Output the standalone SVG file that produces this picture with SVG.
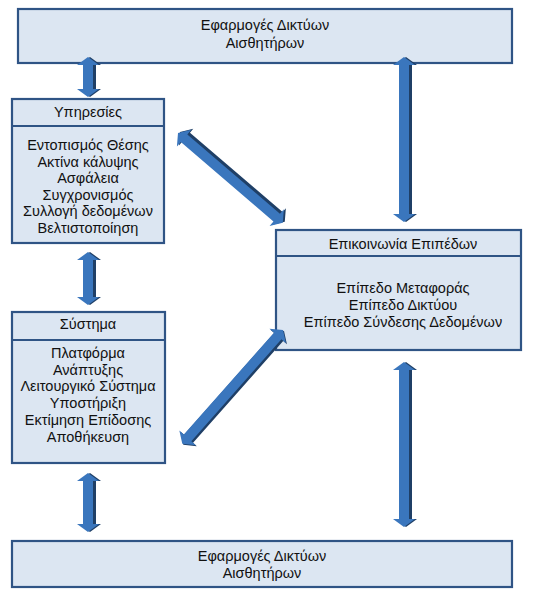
<svg xmlns="http://www.w3.org/2000/svg" width="539" height="597" viewBox="0 0 539 597">
<style>
.box{fill:#dce6f2;stroke:#2f5485;stroke-width:2.2}
.div{stroke:#2f5485;stroke-width:2}
text{font-family:"Liberation Sans","DejaVu Sans",sans-serif;font-size:14.5px;fill:#111;text-anchor:middle}
.sh{fill:#1f3f66}
.ar{fill:#3a76bd}
</style>
<rect width="539" height="597" fill="#fff"/>
<g id="top-apps">
<rect class="box" x="18" y="9" width="494" height="54"/>
<text x="265" y="30">Εφαρμογές Δικτύων</text>
<text x="265" y="48">Αισθητήρων</text>
</g>
<g id="services">
<rect class="box" x="12" y="99" width="152" height="144"/>
<line class="div" x1="12" y1="126" x2="164" y2="126"/>
<text x="88" y="117">Υπηρεσίες</text>
<text x="88" y="150">Εντοπισμός Θέσης</text>
<text x="88" y="166.5">Ακτίνα κάλυψης</text>
<text x="88" y="183">Ασφάλεια</text>
<text x="88" y="199.5">Συγχρονισμός</text>
<text x="88" y="216">Συλλογή δεδομένων</text>
<text x="88" y="232.5">Βελτιστοποίηση</text>
</g>
<g id="system">
<rect class="box" x="12" y="312" width="153" height="151"/>
<line class="div" x1="12" y1="340" x2="165" y2="340"/>
<text x="88" y="329">Σύστημα</text>
<text x="88" y="358">Πλατφόρμα</text>
<text x="88" y="374.7">Ανάπτυξης</text>
<text x="88" y="391.4">Λειτουργικό Σύστημα</text>
<text x="88" y="408.1">Υποστήριξη</text>
<text x="88" y="424.8">Εκτίμηση Επίδοσης</text>
<text x="88" y="441.5">Αποθήκευση</text>
</g>
<g id="communication">
<rect class="box" x="276" y="230" width="245" height="120"/>
<line class="div" x1="276" y1="256" x2="521" y2="256"/>
<text x="403" y="249">Επικοινωνία Επιπέδων</text>
<text x="403" y="293">Επίπεδο Μεταφοράς</text>
<text x="403" y="310">Επίπεδο Δικτύου</text>
<text x="403" y="327">Επίπεδο Σύνδεσης Δεδομένων</text>
</g>
<g id="bottom-apps">
<rect class="box" x="12" y="541" width="500" height="46"/>
<text x="262" y="561">Εφαρμογές Δικτύων</text>
<text x="262" y="578">Αισθητήρων</text>
</g>
<g id="connectors">
<g transform="translate(90,57) rotate(90)"><path class="sh" d="M0,0 L8,-11 L8,-6 L32,-6 L32,-11 L40,0 L32,11 L32,6 L8,6 L8,11 Z"/></g>
<g transform="translate(88,57) rotate(90)"><path class="ar" d="M0,0 L8,-11 L8,-5 L32,-5 L32,-11 L40,0 L32,11 L32,5 L8,5 L8,11 Z"/></g>
<g transform="translate(90,252) rotate(90)"><path class="sh" d="M0,0 L8,-11 L8,-6 L45,-6 L45,-11 L53,0 L45,11 L45,6 L8,6 L8,11 Z"/></g>
<g transform="translate(88,252) rotate(90)"><path class="ar" d="M0,0 L8,-11 L8,-5 L45,-5 L45,-11 L53,0 L45,11 L45,5 L8,5 L8,11 Z"/></g>
<g transform="translate(90,473) rotate(90)"><path class="sh" d="M0,0 L8,-11 L8,-6 L51,-6 L51,-11 L59,0 L51,11 L51,6 L8,6 L8,11 Z"/></g>
<g transform="translate(88,473) rotate(90)"><path class="ar" d="M0,0 L8,-11 L8,-5 L51,-5 L51,-11 L59,0 L51,11 L51,5 L8,5 L8,11 Z"/></g>
<g transform="translate(406,57) rotate(90)"><path class="sh" d="M0,0 L8,-11 L8,-6 L157,-6 L157,-11 L165,0 L157,11 L157,6 L8,6 L8,11 Z"/></g>
<g transform="translate(404,57) rotate(90)"><path class="ar" d="M0,0 L8,-11 L8,-5 L157,-5 L157,-11 L165,0 L157,11 L157,5 L8,5 L8,11 Z"/></g>
<g transform="translate(406,362) rotate(90)"><path class="sh" d="M0,0 L8,-11 L8,-6 L157,-6 L157,-11 L165,0 L157,11 L157,6 L8,6 L8,11 Z"/></g>
<g transform="translate(404,362) rotate(90)"><path class="ar" d="M0,0 L8,-11 L8,-5 L157,-5 L157,-11 L165,0 L157,11 L157,5 L8,5 L8,11 Z"/></g>
<g transform="translate(180,132) rotate(40.6)"><path class="sh" d="M0,0 L8,-11 L8,-6 L130,-6 L130,-11 L138,0 L130,11 L130,6 L8,6 L8,11 Z"/></g>
<g transform="translate(178,133) rotate(40.6)"><path class="ar" d="M0,0 L8,-11 L8,-5 L130,-5 L130,-11 L138,0 L130,11 L130,5 L8,5 L8,11 Z"/></g>
<g transform="translate(284,331) rotate(131.5)"><path class="sh" d="M0,0 L8,-11 L8,-6 L144,-6 L144,-11 L152,0 L144,11 L144,6 L8,6 L8,11 Z"/></g>
<g transform="translate(283,330) rotate(131.5)"><path class="ar" d="M0,0 L8,-11 L8,-5 L144,-5 L144,-11 L152,0 L144,11 L144,5 L8,5 L8,11 Z"/></g>
</g>
</svg>
